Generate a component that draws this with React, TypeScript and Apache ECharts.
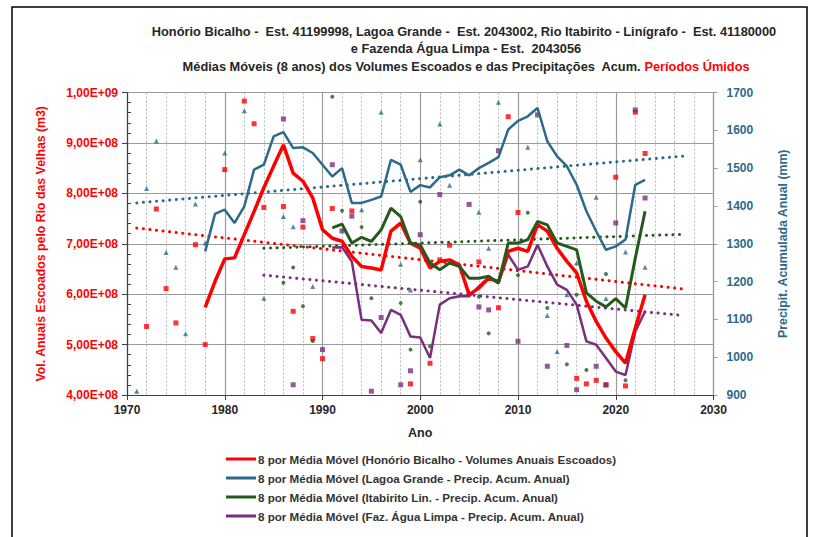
import React, { useEffect, useRef } from "react";
import * as echarts from "echarts";

// ---- Data ----
const maYearsRB = Array.from({ length: 46 }, (_, i) => 1978 + i); // 1978..2023
const maYearsGP = Array.from({ length: 33 }, (_, i) => 1991 + i); // 1991..2023

// Honório Bicalho 8-yr moving avg volumes (x1e8 m3)
const redMA = [5.74, 6.25, 6.70, 6.72, 7.18, 7.64, 8.11, 8.54, 8.96, 8.40, 8.24, 7.91, 7.28,
  7.11, 7.05, 6.75, 6.55, 6.52, 6.48, 7.25, 7.41, 7.01, 6.91,
  6.52, 6.65, 6.68, 6.58, 5.99, 6.12, 6.32, 6.25, 6.85, 6.91,
  6.85, 7.38, 7.25, 6.91, 6.65, 6.42, 5.86, 5.46, 5.13, 4.86,
  4.63, 5.33, 5.99];
// Lagoa Grande MA precip (mm)
const blueMA = [1280, 1379, 1390, 1355, 1399, 1496, 1509, 1584, 1595, 1553, 1555, 1540, 1509,
  1478, 1500, 1408, 1408, 1416, 1425, 1522, 1509, 1437, 1455,
  1449, 1476, 1481, 1496, 1481, 1500, 1514, 1529, 1602, 1625,
  1637, 1659, 1571, 1531, 1505, 1456, 1386, 1333, 1284, 1293,
  1311, 1456, 1469];
// Itabirito MA precip (mm)
const greenMA = [1342, 1352, 1302, 1317, 1306, 1337, 1394, 1372, 1302, 1297,
  1249, 1231, 1249, 1240, 1209, 1209, 1214, 1196, 1302, 1302,
  1311, 1359, 1350, 1302, 1293, 1284, 1170, 1148, 1133, 1155,
  1130, 1262, 1386];
// Faz. Água Limpa MA precip (mm)
const purpleMA = [1290, 1291, 1253, 1099, 1097, 1064, 1125, 1112, 1055, 1052,
  998, 1139, 1156, 1161, 1161, 1187, 1211, 1196, 1271, 1231,
  1240, 1297, 1240, 1192, 1178, 1139, 1042, 1033, 998, 962,
  953, 1068, 1121];

// Annual values (scatter)
const redAnnual: [number, number][] = [
  [1972, 5.36], [1973, 7.69], [1974, 6.11], [1975, 5.43], [1977, 6.98], [1978, 5.0], [1980, 8.47],
  [1982, 9.83], [1983, 9.38], [1984, 7.72], [1986, 7.74], [1987, 5.66], [1988, 7.33], [1989, 5.12],
  [1990, 4.72], [1991, 7.7], [1993, 7.65], [1999, 4.22], [2001, 4.63], [2002, 6.68], [2003, 6.97],
  [2006, 6.64], [2008, 5.73], [2009, 9.52], [2010, 7.62], [2016, 4.33], [2017, 4.22], [2018, 4.29],
  [2019, 4.2], [2020, 8.32], [2021, 4.18], [2022, 9.61], [2023, 8.79]];
const blueAnnual: [number, number][] = [
  [1971, 910], [1972, 1446], [1973, 1572], [1974, 1277], [1975, 1238], [1976, 1062], [1977, 1405],
  [1978, 1302], [1980, 1540], [1982, 1652], [1984, 1156], [1986, 1372], [1987, 1345], [1989, 1187],
  [1994, 1390], [1996, 1648], [1998, 1246], [1999, 1178], [2000, 1522], [2002, 1617], [2003, 1455],
  [2006, 1383], [2007, 1288], [2008, 1674], [2011, 1555], [2013, 1110], [2014, 1015], [2015, 1165],
  [2016, 1249], [2018, 1423], [2019, 1155], [2021, 1278], [2023, 1238]];
const greenAnnual: [number, number][] = [
  [1986, 1197], [1987, 1237], [1988, 1135], [1989, 1043], [1991, 1689], [1992, 1387], [1994, 1344],
  [1995, 1156], [1998, 1143], [1999, 1020], [2000, 1411], [2001, 1029], [2006, 1160], [2007, 1063],
  [2010, 1217], [2011, 1382], [2013, 1130], [2015, 981], [2016, 1165], [2017, 966], [2019, 1220],
  [2021, 939]];
const purpleAnnual: [number, number][] = [
  [1986, 1630], [1987, 927], [1988, 1361], [1990, 1020], [1991, 1509], [1992, 1334], [1993, 1373],
  [1995, 910], [1996, 1105], [1998, 927], [1999, 964], [2000, 1324], [2002, 1430], [2005, 1404],
  [2006, 1133], [2007, 1125], [2008, 1546], [2010, 1042], [2012, 1641], [2013, 976], [2015, 1031],
  [2016, 914], [2018, 976], [2019, 927], [2020, 1355], [2022, 1654], [2023, 1421]];

// Linear trend endpoints
const redTrend: [number, number][] = [[1971, 7.31], [2027, 6.10]];
const blueTrend: [number, number][] = [[1971, 1408], [2027, 1532]];
const greenTrend: [number, number][] = [[1984, 1288], [2027, 1325]];
const purpleTrend: [number, number][] = [[1984, 1217], [2027, 1110]];

const legendNames = [
  "8 por Média Móvel (Honório Bicalho - Volumes Anuais Escoados)",
  "8 por Média Móvel (Lagoa Grande - Precip. Acum. Anual)",
  "8 por Média Móvel (Itabirito Lin. - Precip. Acum. Anual)",
  "8 por Média Móvel (Faz. Água Limpa - Precip. Acum. Anual)",
];

const RED = "#FF0000";
const BLUE = "#2B6A8A";
const GREEN = "#245A1C";
const PURPLE = "#7A2E7E";
const FONT = "'Liberation Sans', Arial, sans-serif";

const sciFmt = (v: number) => {
  if (v === 0) return "0,00E+00";
  const e = Math.floor(Math.log10(v) + 1e-9);
  const m = v / Math.pow(10, e);
  return m.toFixed(2).replace(".", ",") + "E+" + String(e).padStart(2, "0");
};
const plain = (v: number) => String(Math.round(v));

export default function App() {
  const ref = useRef<HTMLDivElement>(null);
  useEffect(() => {
    if (!ref.current) return;
    const chart = echarts.init(ref.current, undefined, { renderer: "svg" });
    const scaleV = (arr: [number, number][]) => arr.map(([x, y]) => [x, y * 1e8]);
    const titleFont = `bold 12.8px ${FONT}`;
    const option: any = {
      animation: false,
      backgroundColor: "#fff",
      graphic: [
        { type: "rect", shape: { x: 12, y: 7, width: 795, height: 545 }, style: { fill: "none", stroke: "#000", lineWidth: 1.5 }, silent: true },
        { type: "text", x: 464, y: 31, style: { text: "Honório Bicalho -  Est. 41199998, Lagoa Grande -  Est. 2043002, Rio Itabirito - Linígrafo -  Est. 41180000", font: titleFont, fill: "#262626", align: "center", verticalAlign: "middle" } },
        { type: "text", x: 466, y: 48.5, style: { text: "e Fazenda Água Limpa - Est.  2043056", font: titleFont, fill: "#262626", align: "center", verticalAlign: "middle" } },
        { type: "text", x: 466, y: 66, style: { text: "{a|Médias Móveis (8 anos) dos Volumes Escoados e das Precipitações  Acum. }{r|Períodos Úmidos}", align: "center", verticalAlign: "middle", rich: { a: { font: titleFont, fill: "#262626" }, r: { font: titleFont, fill: "#FF0000" } } } },
      ],
      grid: { left: 127, right: 99.5, top: 92.5, bottom: 142, containLabel: false },
      legend: {
        data: legendNames, orient: "vertical", left: 221, top: 448, itemWidth: 30, itemHeight: 3, itemGap: 7, icon: "rect",
        textStyle: { fontSize: 11.6, fontWeight: "bold", color: "#333", fontFamily: FONT, padding: [0, 0, 0, -3] },
      },
      xAxis: {
        type: "value", min: 1970, max: 2030, interval: 10,
        name: "Ano", nameLocation: "middle", nameGap: 31,
        nameTextStyle: { fontSize: 12.5, fontWeight: "bold", color: "#262626", fontFamily: FONT },
        axisLine: { show: true, onZero: false, lineStyle: { color: "#404040", width: 1.2 } },
        axisTick: { show: true, length: 5, lineStyle: { color: "#404040" } },
        axisLabel: { formatter: plain, margin: 9, fontSize: 12, fontWeight: "bold", color: "#262626", fontFamily: FONT },
        splitLine: { show: true, lineStyle: { color: "#9a9a9a", width: 1.2 } },
        minorTick: { show: false, splitNumber: 5 },
        minorSplitLine: { show: true, lineStyle: { color: "#b8b8b8", type: [2, 2], width: 1 } },
      },
      yAxis: [
        {
          type: "value", min: 4e8, max: 1e9, interval: 1e8, position: "left",
          name: "Vol. Anuais Escoados pelo Rio das Velhas (m3)", nameLocation: "middle", nameGap: 80, nameRotate: 90,
          nameTextStyle: { fontSize: 12.3, fontWeight: "bold", color: RED, fontFamily: FONT },
          axisLine: { show: true, lineStyle: { color: "#404040", width: 1.2 } },
          axisTick: { show: true, length: 5, lineStyle: { color: "#404040" } },
          minorTick: { show: true, splitNumber: 5, length: -4, lineStyle: { color: "#404040" } },
          axisLabel: { formatter: sciFmt, margin: 9, fontSize: 12, fontWeight: "bold", color: RED, fontFamily: FONT },
          splitLine: { show: true, lineStyle: { color: "#9a9a9a", width: 1.2 } },
        },
        {
          type: "value", min: 900, max: 1700, interval: 100, position: "right",
          name: "Precipit. Acumulada Anual (mm)", nameLocation: "middle", nameGap: 63, nameRotate: 90,
          nameTextStyle: { fontSize: 12.3, fontWeight: "bold", color: BLUE, fontFamily: FONT },
          axisLine: { show: true, lineStyle: { color: "#9a9a9a", width: 1.2 } },
          axisTick: { show: true, length: 4, lineStyle: { color: "#9a9a9a" } },
          axisLabel: { formatter: plain, margin: 13, fontSize: 12, fontWeight: "bold", color: BLUE, fontFamily: FONT },
          splitLine: { show: false },
        },
      ],
      series: [
        // trends
        { type: "line", yAxisIndex: 0, data: scaleV(redTrend), symbol: "none", lineStyle: { color: RED, width: 3, type: [0.1, 6.5], cap: "round" }, silent: true, z: 2 },
        { type: "line", yAxisIndex: 1, data: blueTrend, symbol: "none", lineStyle: { color: BLUE, width: 3, type: [0.1, 6.5], cap: "round" }, silent: true, z: 2 },
        { type: "line", yAxisIndex: 1, data: greenTrend, symbol: "none", lineStyle: { color: GREEN, width: 3, type: [0.1, 6.5], cap: "round" }, silent: true, z: 2 },
        { type: "line", yAxisIndex: 1, data: purpleTrend, symbol: "none", lineStyle: { color: PURPLE, width: 3, type: [0.1, 6.5], cap: "round" }, silent: true, z: 2 },
        // annual scatter
        { type: "scatter", yAxisIndex: 0, data: scaleV(redAnnual), symbol: "rect", symbolSize: 5, itemStyle: { color: RED }, z: 3 },
        { type: "scatter", yAxisIndex: 1, data: blueAnnual, symbol: "triangle", symbolSize: 5, itemStyle: { color: BLUE }, z: 3 },
        { type: "scatter", yAxisIndex: 1, data: greenAnnual, symbol: "circle", symbolSize: 4, itemStyle: { color: GREEN }, z: 3 },
        { type: "scatter", yAxisIndex: 1, data: purpleAnnual, symbol: "rect", symbolSize: 5, itemStyle: { color: PURPLE }, z: 3 },
        // moving averages
        { name: legendNames[1], type: "line", yAxisIndex: 1, data: maYearsRB.map((y, i) => [y, blueMA[i]]), symbol: "none", itemStyle: { color: BLUE }, lineStyle: { color: BLUE, width: 2.5 }, z: 5 },
        { name: legendNames[3], type: "line", yAxisIndex: 1, data: maYearsGP.map((y, i) => [y, purpleMA[i]]), symbol: "none", itemStyle: { color: PURPLE }, lineStyle: { color: PURPLE, width: 2.5 }, z: 5 },
        { name: legendNames[0], type: "line", yAxisIndex: 0, data: maYearsRB.map((y, i) => [y, redMA[i] * 1e8]), symbol: "none", itemStyle: { color: RED }, lineStyle: { color: RED, width: 3.5 }, z: 6 },
        { name: legendNames[2], type: "line", yAxisIndex: 1, data: maYearsGP.map((y, i) => [y, greenMA[i]]), symbol: "none", itemStyle: { color: GREEN }, lineStyle: { color: GREEN, width: 3 }, z: 7 },
      ],
    };
    chart.setOption(option);
    return () => chart.dispose();
  }, []);
  return <div ref={ref} style={{ position: "fixed", left: 0, top: 0, width: 813, height: 537, background: "#fff" }} />;
}
